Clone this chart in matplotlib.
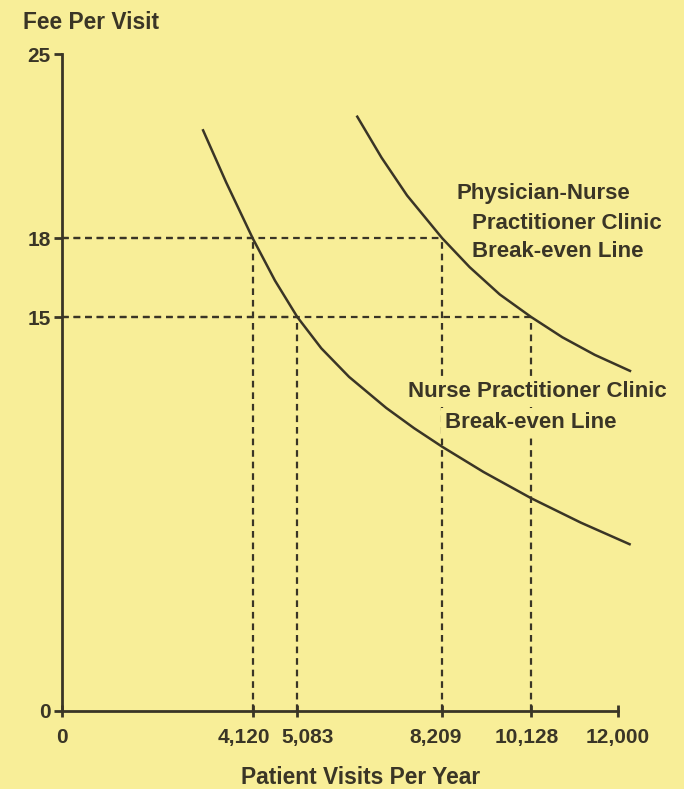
import matplotlib
matplotlib.use('Agg')
import matplotlib.pyplot as plt
from matplotlib.transforms import ScaledTranslation

# Break-even lines, values
nurse_visits = [3050, 3550, 4120, 4600, 5083, 5600, 6200, 7000, 7600, 8209, 9100, 10128, 11200, 12250]
nurse_fee = [22.11, 20.12, 18.0, 16.39, 15.0, 13.81, 12.72, 11.54, 10.77, 10.06, 9.10, 8.10, 7.17, 6.35]

phys_visits = [6376, 6900, 7450, 8209, 8800, 9450, 10128, 10800, 11500, 12259]
phys_fee = [22.63, 21.07, 19.63, 18.0, 16.90, 15.86, 15.0, 14.23, 13.56, 12.95]

# break-even points marked with dashed guides (visits, fee)
guide_visits = [4120, 5083, 8209, 10128]
guide_fee = [18, 15, 18, 15]

x_ticks = [0, 4120, 5083, 8209, 10128, 12000]
x_labels = ['0', '4,120', '5,083', '8,209', '10,128', '12,000']
y_ticks = [0, 15, 18, 25]

bg = '#f8ee98'
ink = '#3a3526'

plt.rcParams['font.family'] = ['Liberation Sans', 'DejaVu Sans']
plt.rcParams['font.weight'] = 'bold'

fig = plt.figure(figsize=(6.84, 7.89), dpi=100, facecolor=bg)
ax = fig.add_axes([0.0902, 0.0989, 0.8133, 0.8321], facecolor=bg)

# dashed guide lines
for vx, fy in zip(guide_visits, guide_fee):
    ax.plot([0, vx], [fy, fy], color=ink, lw=1.6, dashes=(3, 2.2), zorder=2)
    ax.plot([vx, vx], [0, fy], color=ink, lw=1.6, dashes=(3, 2.2), zorder=2)

# curves
ax.plot(nurse_visits, nurse_fee, color=ink, lw=1.8, clip_on=False, zorder=3)
ax.plot(phys_visits, phys_fee, color=ink, lw=1.8, clip_on=False, zorder=3)

ax.set_xlim(0, 12000)
ax.set_ylim(0, 25)
for s in ['top', 'right']:
    ax.spines[s].set_visible(False)
for s in ['left', 'bottom']:
    ax.spines[s].set_linewidth(2.0)
    ax.spines[s].set_color(ink)

ax.set_xticks(x_ticks)
ax.set_xticklabels(x_labels)
ax.set_yticks(y_ticks)
ax.set_yticklabels([str(v) for v in y_ticks])
ax.tick_params(axis='x', direction='inout', length=9, width=2, color=ink,
               labelsize=15, labelcolor=ink, pad=8)
ax.tick_params(axis='y', direction='out', length=6, width=2, color=ink,
               labelsize=15, labelcolor=ink, pad=2)
for lab in ax.get_xticklabels() + ax.get_yticklabels():
    lab.set_fontweight('bold')

# nudge crowded x labels sideways like the original
shifts = [0, -9, 10.7, -7, -4.5, 0]
for lab, dx in zip(ax.get_xticklabels(), shifts):
    lab.set_transform(lab.get_transform() + ScaledTranslation(dx / 100, 0, fig.dpi_scale_trans))

box = dict(facecolor=bg, edgecolor='none', pad=3)
txt = dict(color=ink, fontsize=16, fontweight='bold', va='center', zorder=5)

# labels for the curves
ax.text(0.7088, 0.7886, 'Physician-Nurse', transform=ax.transAxes, **txt)
ax.text(0.7376, 0.7429, 'Practitioner Clinic', transform=ax.transAxes, **txt)
ax.text(0.7376, 0.6996, 'Break-even Line', transform=ax.transAxes, **txt)
ax.text(0.6231, 0.4859, 'Nurse Practitioner Clinic', transform=ax.transAxes, bbox=box, **txt)
ax.text(0.6890, 0.4387, 'Break-even Line', transform=ax.transAxes, bbox=box, **txt)

fig.text(0.033, 0.971, 'Fee Per Visit', color=ink, fontsize=16.4, fontweight='bold', va='center')
fig.text(0.353, 0.014, 'Patient Visits Per Year', color=ink, fontsize=16.4, fontweight='bold',
         va='center')

plt.savefig('out.png', dpi=100, facecolor=bg)
